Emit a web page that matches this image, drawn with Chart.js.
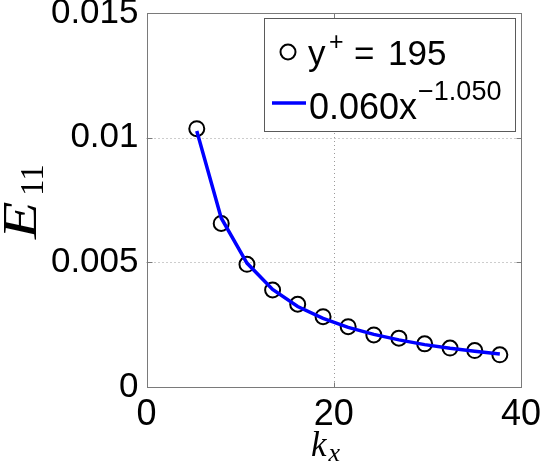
<!DOCTYPE html>
<html>
<head>
<meta charset="utf-8">
<script src="https://cdn.jsdelivr.net/npm/chart.js@4.4.1/dist/chart.umd.min.js"></script>
<style>html,body{margin:0;padding:0;background:#fff}</style>
</head>
<body>
<canvas id="chart" width="540" height="466"></canvas>
<script>
// values
var kx = [5.37, 7.98, 10.73, 13.47, 16.15, 18.86, 21.54, 24.28, 26.96, 29.71, 32.42, 35.06, 37.74];
var e11 = [0.01036, 0.00656, 0.00492, 0.00389, 0.00332, 0.00282, 0.00242, 0.00209, 0.00196, 0.00173, 0.00156, 0.00146, 0.00129];
var fitE11 = [0.01027, 0.00678, 0.00497, 0.00391, 0.00323, 0.00275, 0.00239, 0.00211, 0.00189, 0.00170, 0.00155, 0.00143, 0.00132];
var xTicks = [0, 20, 40];
var xTickLabels = ['0', '20', '40'];
var yTicks = [0, 0.005, 0.01, 0.015];
var yTickLabels = ['0', '0.005', '0.01', '0.015'];

var sans = '"Liberation Sans", Helvetica, Arial, sans-serif';
var serif = '"Liberation Serif", "Times New Roman", serif';

function toPoints(xs, ys){
    var out = [];
    xs.forEach(function(x, i){
        out.push({x: x, y: ys[i]});
    });
    return out;
}

// draws a piece of text, returns end x
function piece(ctx, txt, x, y, font){
    ctx.font = font;
    ctx.fillText(txt, x, y);
    return x + ctx.measureText(txt).width;
}

var frame = {
    id: 'frame',
    beforeDatasetsDraw: function(chart){
        var ctx = chart.ctx, a = chart.chartArea;
        var xs = chart.scales.x, ys = chart.scales.y;
        ctx.save();
        // dotted grid
        ctx.strokeStyle = '#9a9a9a';
        ctx.lineWidth = 1;
        ctx.setLineDash([1, 3]);
        xTicks.forEach(function(v){
            if (v <= xs.min || v >= xs.max) return;
            var px = Math.round(xs.getPixelForValue(v)) + 0.5;
            ctx.beginPath(); ctx.moveTo(px, a.top); ctx.lineTo(px, a.bottom); ctx.stroke();
        });
        yTicks.forEach(function(v){
            if (v <= ys.min || v >= ys.max) return;
            var py = Math.round(ys.getPixelForValue(v)) + 0.5;
            ctx.beginPath(); ctx.moveTo(a.left, py); ctx.lineTo(a.right, py); ctx.stroke();
        });
        ctx.setLineDash([]);
        // box + inward ticks
        ctx.strokeStyle = '#7a7a7a';
        var l = Math.round(a.left) + 0.5, r = Math.round(a.right) + 0.5;
        var t = Math.round(a.top) + 0.5, b = Math.round(a.bottom) + 0.5;
        ctx.strokeRect(l, t, r - l, b - t);
        ctx.beginPath();
        xTicks.forEach(function(v){
            var px = Math.round(xs.getPixelForValue(v)) + 0.5;
            ctx.moveTo(px, b); ctx.lineTo(px, b - 5);
            ctx.moveTo(px, t); ctx.lineTo(px, t + 5);
        });
        yTicks.forEach(function(v){
            var py = Math.round(ys.getPixelForValue(v)) + 0.5;
            ctx.moveTo(l, py); ctx.lineTo(l + 5, py);
            ctx.moveTo(r, py); ctx.lineTo(r - 5, py);
        });
        ctx.stroke();
        ctx.restore();
    },
    afterDraw: function(chart){
        var ctx = chart.ctx;
        var ds0 = chart.data.datasets[0], ds1 = chart.data.datasets[1];
        ctx.save();
        // legend box
        ctx.fillStyle = '#fff';
        ctx.fillRect(264, 18, 252, 114);
        ctx.strokeStyle = '#5a5a5a';
        ctx.lineWidth = 1;
        ctx.strokeRect(264.5, 18.5, 251, 113);
        // row 1: marker
        ctx.strokeStyle = ds0.borderColor;
        ctx.lineWidth = ds0.borderWidth;
        ctx.beginPath(); ctx.arc(288, 52, ds0.pointRadius, 0, Math.PI * 2); ctx.stroke();
        ctx.fillStyle = '#000';
        ctx.textBaseline = 'alphabetic';
        ctx.textAlign = 'left';
        piece(ctx, 'y', 308, 65, '35px ' + sans);
        piece(ctx, '+', 329, 50, '25px ' + sans);
        piece(ctx, '=', 354, 65, '35px ' + sans);
        piece(ctx, '195', 388, 65, '35px ' + sans);
        // row 2: fit line
        ctx.strokeStyle = ds1.borderColor;
        ctx.lineWidth = ds1.borderWidth;
        ctx.beginPath(); ctx.moveTo(272, 103); ctx.lineTo(306, 103); ctx.stroke();
        var x = piece(ctx, '0.060x', 309, 119, '36px ' + sans);
        piece(ctx, '\u22121.050', x + 1, 100, '27px ' + sans);

        // axis titles
        ctx.save();
        ctx.translate(36, 239);
        ctx.rotate(-Math.PI / 2);
        ctx.save();
        ctx.scale(1.25, 1);
        piece(ctx, 'E', 0, 0, 'italic 49px ' + serif);
        ctx.restore();
        piece(ctx, '11', 43, 7, '33px ' + serif);
        ctx.restore();

        x = piece(ctx, 'k', 311, 456, 'italic 35px ' + serif);
        piece(ctx, 'x', x + 2, 461, 'italic 26px ' + serif);
        ctx.restore();
    }
};

var ctx = document.getElementById('chart').getContext('2d');
var chart = new Chart(ctx, {
    type: 'scatter',
    data: {
        datasets: [{
            label: 'y+ = 195',
            data: toPoints(kx, e11),
            showLine: false,
            pointStyle: 'circle',
            pointRadius: 7.5,
            pointHoverRadius: 7.5,
            backgroundColor: 'rgba(0,0,0,0)',
            borderColor: '#000',
            borderWidth: 2,
            order: 2
        }, {
            label: '0.060x^-1.050',
            type: 'line',
            data: toPoints(kx, fitE11),
            showLine: true,
            fill: false,
            pointRadius: 0,
            borderColor: '#0000ff',
            borderWidth: 3.5,
            tension: 0,
            order: 1
        }]
    },
    options: {
        responsive: false,
        devicePixelRatio: 1,
        animation: false,
        layout: {padding: {top: 13, right: 19, left: 0, bottom: 0}},
        plugins: {legend: {display: false}, tooltip: {enabled: false}},
        scales: {
            x: {
                type: 'linear',
                min: 0, max: 40,
                grid: {display: false, drawTicks: false},
                border: {display: false},
                afterBuildTicks: function(s){ s.ticks = xTicks.map(function(v){ return {value: v}; }); },
                ticks: {
                    color: '#000',
                    padding: 6,
                    maxRotation: 0,
                    font: {family: sans, size: 36},
                    callback: function(v, i){ return xTickLabels[i]; }
                },
                afterFit: function(s){ s.height = 79; s.paddingLeft = 0; s.paddingRight = 0; }
            },
            y: {
                type: 'linear',
                min: 0, max: 0.015,
                grid: {display: false, drawTicks: false},
                border: {display: false},
                afterBuildTicks: function(s){ s.ticks = yTicks.map(function(v){ return {value: v}; }); },
                ticks: {
                    color: '#000',
                    padding: 8,
                    font: {family: sans, size: 35},
                    callback: function(v, i){ return yTickLabels[i]; }
                },
                afterFit: function(s){ s.width = 146.5; s.paddingTop = 0; s.paddingBottom = 0; }
            }
        }
    },
    plugins: [frame]
});
</script>
</body>
</html>
